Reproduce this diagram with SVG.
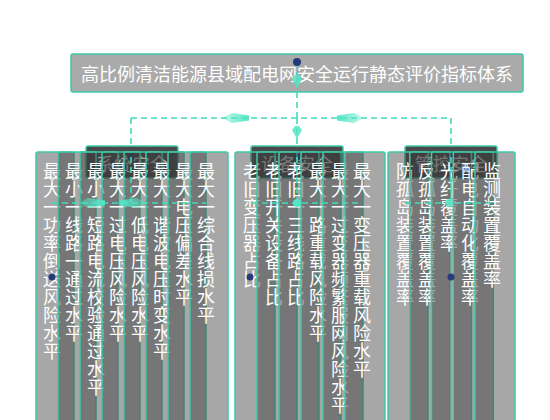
<svg xmlns="http://www.w3.org/2000/svg" width="550" height="420" viewBox="0 0 550 420">
<defs>
<style>
.root rect{fill:#aaaaaa;stroke:#3ec9a8;stroke-width:1.5}
.cat rect{fill:#4a4a4a;stroke:#3ec9a8;stroke-width:1.5}
.leaf rect{fill:#3c3c3c;fill-opacity:.45;stroke:#3ec9a8;stroke-width:1.5}
text{fill:#ffffff;font-family:"Noto Sans CJK SC","Noto Sans",sans-serif;font-size:18px}
.h{text-anchor:middle;dominant-baseline:central}
.v{writing-mode:vertical-rl;text-anchor:start}
.dash{fill:none;stroke:#3fdcb9;stroke-width:1.6;stroke-dasharray:6 4}
.dot{fill:#263c78}
.arr{fill:#52e6c6;fill-opacity:.85}
</style>
<linearGradient id="ag" x1="0" y1="0" x2="1" y2="0">
<stop offset="0" stop-color="#52e6c6" stop-opacity=".3"/>
<stop offset="1" stop-color="#52e6c6" stop-opacity="1"/>
</linearGradient>
<path id="ah" d="M-14,0 L-4,-5 L13,-2.5 L13,2.5 L-4,5 Z" fill="url(#ag)"/>
<path id="av" d="M0,6 L-5,-3 L-2,-7 L2,-7 L5,-3 Z" class="arr"/>
</defs>

<g id="root" class="root">
<rect x="71" y="54" width="452" height="38" rx="2"/>
<text class="h" x="297" y="73">高比例清洁能源县域配电网安全运行静态评价指标体系</text>
</g>

<g id="cat-1" class="cat">
<rect x="86" y="146" width="92" height="32" rx="2"/>
<text class="h" x="132" y="163">系统安全</text>
</g>
<g id="cat-2" class="cat">
<rect x="251" y="146" width="92" height="32" rx="2"/>
<text class="h" x="297" y="163">设备安全</text>
</g>
<g id="cat-3" class="cat">
<rect x="405" y="146" width="92" height="32" rx="2"/>
<text class="h" x="451" y="163">管控安全</text>
</g>

<g id="dots-under">
<circle class="dot" cx="131" cy="157" r="3.5"/>
<circle class="dot" cx="297" cy="157" r="3.5"/>
<circle class="dot" cx="451" cy="157" r="3.5"/>
</g>

<g id="leaf-1-1" class="leaf"><rect x="36" y="152" width="38" height="300" rx="2"/><text class="v" x="52" y="162">最大一功率倒送风险水平</text></g>
<g id="leaf-1-2" class="leaf"><rect x="58" y="152" width="38" height="300" rx="2"/><text class="v" x="74" y="162">最小一线路一通过水平</text></g>
<g id="leaf-1-3" class="leaf"><rect x="80" y="152" width="38" height="300" rx="2"/><text class="v" x="96" y="162">最小一短路电流校验通过水平</text></g>
<g id="leaf-1-4" class="leaf"><rect x="102" y="152" width="38" height="300" rx="2"/><text class="v" x="118" y="162">最大一过电压风险水平</text></g>
<g id="leaf-1-5" class="leaf"><rect x="124" y="152" width="38" height="300" rx="2"/><text class="v" x="140" y="162">最大一低电压风险水平</text></g>
<g id="leaf-1-6" class="leaf"><rect x="146" y="152" width="38" height="300" rx="2"/><text class="v" x="162" y="162">最大一谐波电压时变水平</text></g>
<g id="leaf-1-7" class="leaf"><rect x="168" y="152" width="38" height="300" rx="2"/><text class="v" x="184" y="162">最大电压偏差水平</text></g>
<g id="leaf-1-8" class="leaf"><rect x="190" y="152" width="38" height="300" rx="2"/><text class="v" x="206" y="162">最大一综合线损水平</text></g>

<g id="leaf-2-1" class="leaf"><rect x="235" y="152" width="40" height="300" rx="2"/><text class="v" x="252" y="162">老旧变压器占比</text></g>
<g id="leaf-2-2" class="leaf"><rect x="257" y="152" width="40" height="300" rx="2"/><text class="v" x="274" y="162">老旧开关设备占比</text></g>
<g id="leaf-2-3" class="leaf"><rect x="279" y="152" width="40" height="300" rx="2"/><text class="v" x="296" y="162">老旧一三线路占比</text></g>
<g id="leaf-2-4" class="leaf"><rect x="301" y="152" width="40" height="300" rx="2"/><text class="v" x="318" y="162">最大一路重载风险水平</text></g>
<g id="leaf-2-5" class="leaf"><rect x="323" y="152" width="40" height="300" rx="2"/><text class="v" x="340" y="162">最大一过变器频繁服网风险水平</text></g>
<g id="leaf-2-6" class="leaf"><rect x="345" y="152" width="40" height="300" rx="2"/><text class="v" x="362" y="162">最大一变压器重载风险水平</text></g>

<g id="leaf-3-1" class="leaf"><rect x="388" y="152" width="40" height="300" rx="2"/><text class="v" x="405" y="162">防孤岛装置覆盖率</text></g>
<g id="leaf-3-2" class="leaf"><rect x="409.75" y="152" width="40" height="300" rx="2"/><text class="v" x="427" y="162">反孤岛装置覆盖率</text></g>
<g id="leaf-3-3" class="leaf"><rect x="431.5" y="152" width="40" height="300" rx="2"/><text class="v" x="449" y="162">光纤覆盖率</text></g>
<g id="leaf-3-4" class="leaf"><rect x="453.25" y="152" width="40" height="300" rx="2"/><text class="v" x="470" y="162">配电自动化覆盖率</text></g>
<g id="leaf-3-5" class="leaf"><rect x="475" y="152" width="40" height="300" rx="2"/><text class="v" x="492" y="162">监测装置覆盖率</text></g>

<g id="connectors">
<path class="dash" d="M297,62 V118 M131,118 H451 M131,118 V146 M297,118 V146 M451,118 V146"/>
<path class="dash" d="M131,157 V203 M52,203 H206"/>
<path class="dash" d="M297,157 V203 M252,203 H362"/>
<path class="dash" d="M451,157 V203 M405,203 H492"/>
<circle cx="297" cy="62" r="4" fill="#26397a"/>
<use href="#av" x="297" y="82"/>
<use href="#av" x="297" y="133"/>
<use href="#ah" x="236" y="118"/>
<use href="#ah" transform="translate(350,118) scale(-1,1)"/>
<use href="#ah" x="92" y="203"/>
<use href="#ah" transform="translate(133,203) scale(-1,1)"/>
<circle cx="297" cy="203" r="4" fill="#52e6c6"/>
<circle cx="449" cy="203" r="4" fill="#52e6c6" fill-opacity=".8"/>
<circle class="dot" cx="52" cy="277" r="3.5"/>
<circle class="dot" cx="250" cy="277" r="3.5"/>
<circle class="dot" cx="451" cy="277" r="3.5"/>
</g>
</svg>
